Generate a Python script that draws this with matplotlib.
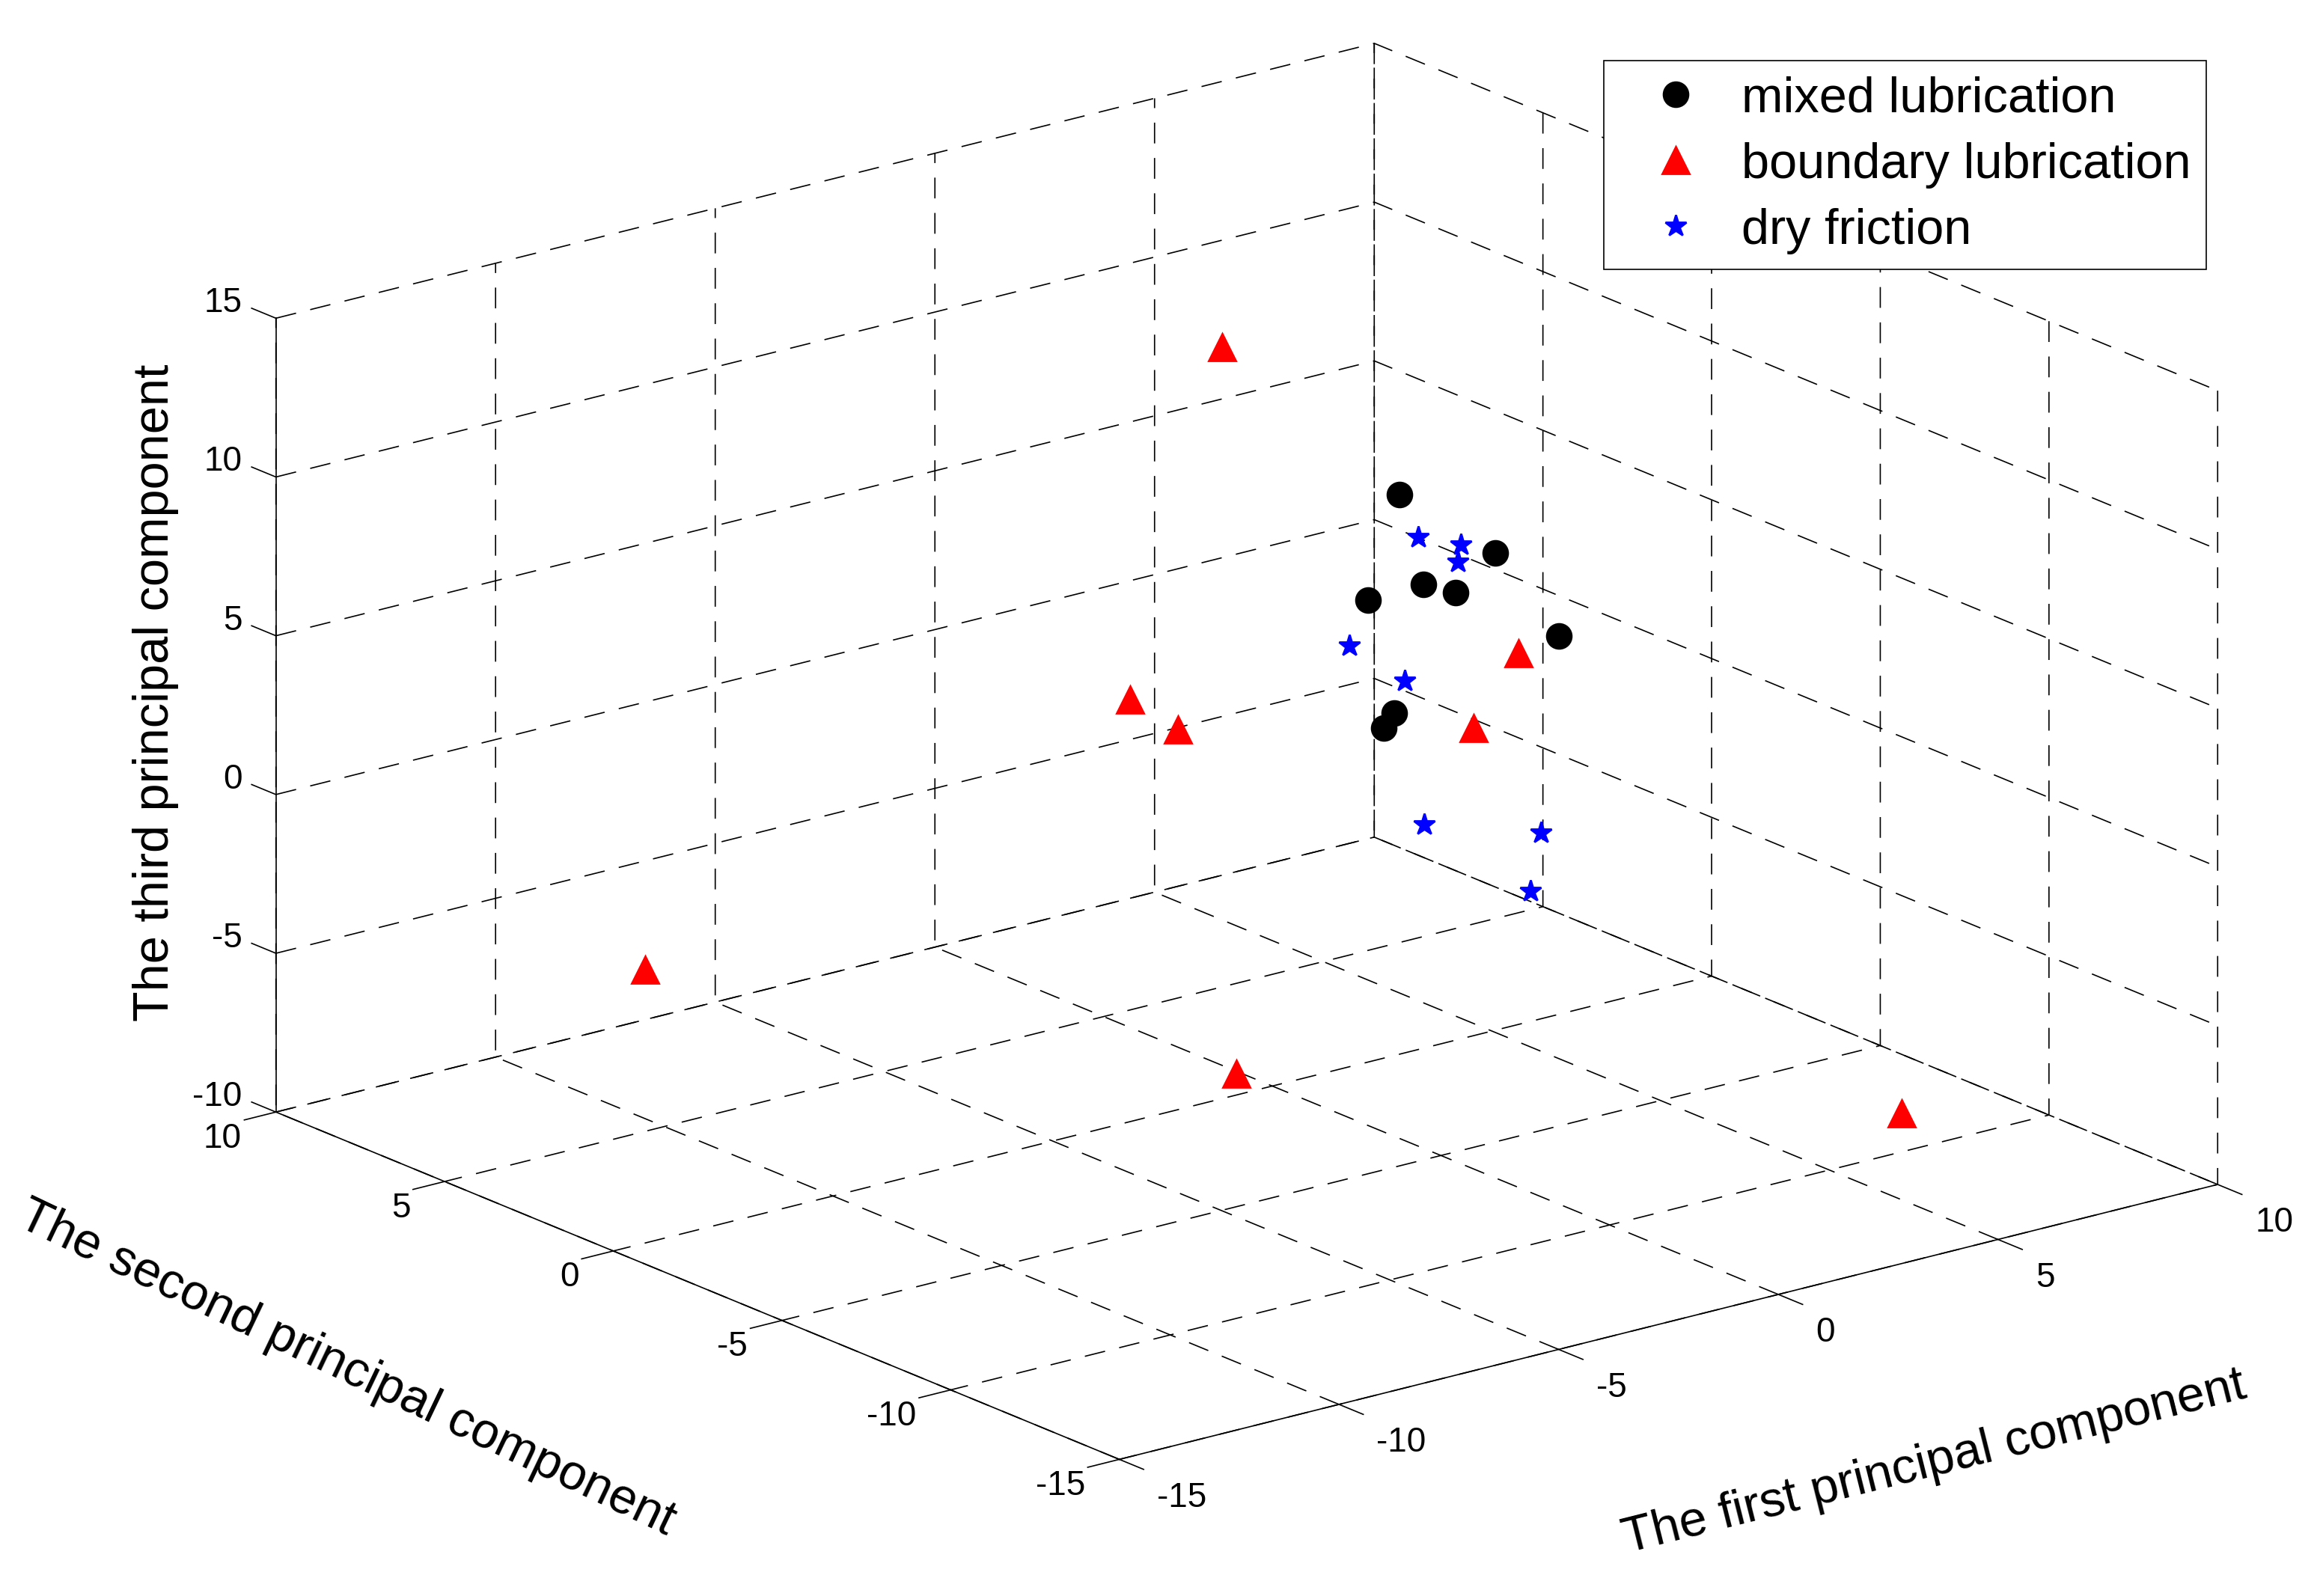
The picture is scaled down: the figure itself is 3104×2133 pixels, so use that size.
import math
import matplotlib
matplotlib.use("Agg")
import matplotlib.pyplot as plt
from mpl_toolkits.mplot3d import proj3d

plt.rcParams['font.family'] = ['Liberation Sans', 'DejaVu Sans']
plt.rcParams['lines.scale_dashes'] = False
plt.rcParams['axes.unicode_minus'] = False

# ---------------- data ----------------
mixed_x = [3.67, 6.62, 3.44, 3.41, 3.72, 6.53, 3.55, 3.69]
mixed_y = [1.0, 2.0, 0.0, -1.0, 2.0, 0.0, 1.0, 1.5]
mixed_z = [6.93, 3.63, 4.60, 4.79, 3.13, 1.92, 0.09, -0.67]

boundary_x = [4.06, 2.27, 2.70, -0.94, -0.61, -9.66, -5.43, 6.64]
boundary_y = [-2.0, -3.0, 5.0, 3.0, 2.0, 6.0, -6.0, -10.0]
boundary_z = [3.11, 1.81, 10.14, 1.19, 0.57, -5.62, -5.11, -8.79]

dry_x = [2.56, 2.76, 2.69, 1.76, 2.25, 1.16, 3.05, 2.03]
dry_y = [-1.0, -2.0, -2.0, 0.0, -1.0, -3.0, -4.0, -5.0]
dry_z = [6.83, 6.96, 6.44, 3.25, 2.41, -0.85, -1.33, -2.37]

x_ticks = [-15, -10, -5, 0, 5, 10]
y_ticks = [-15, -10, -5, 0, 5, 10]
z_ticks = [-10, -5, 0, 5, 10, 15]

series_labels = ['mixed lubrication', 'boundary lubrication', 'dry friction']
xlabel = 'The first principal component'
ylabel = 'The second principal component'
zlabel = 'The third principal component'

XMIN, XMAX = -15, 10
YMIN, YMAX = -15, 10
ZMIN, ZMAX = -10, 15

# ---------------- figure ----------------
fig = plt.figure(figsize=(15.52, 10.665), dpi=200)
ax = fig.add_axes([0.0802, -0.135, 0.889, 1.2935], projection='3d',
                  proj_type='ortho')
ax.view_init(elev=18.73, azim=-127.94)
ax.set_box_aspect((1.0, 0.985, 0.602))
ax.set_xlim(XMIN, XMAX)
ax.set_ylim(YMIN, YMAX)
ax.set_zlim(ZMIN, ZMAX)
ax.set_xticks(x_ticks)
ax.set_yticks(y_ticks)
ax.set_zticks(z_ticks)

for axis in (ax.xaxis, ax.yaxis, ax.zaxis):
    axis.set_pane_color((1, 1, 1, 0))
    axis.pane.set_edgecolor((1, 1, 1, 0))
    axis._axinfo['grid'].update(color='k', linewidth=0.6,
                                linestyle=(0, (10, 7)))
    axis._axinfo['tick'].update(inward_factor=0.36, outward_factor=0.0,
                                linewidth={True: 0.6, False: 0.6})
    axis._axinfo['axisline'].update(color='k', linewidth=0.6)
    axis.line.set_linewidth(0.6)
    axis.line.set_color('k')
    axis.set_tick_params(which='both', label1On=False, label2On=False,
                         colors='k')
    axis.label.set_visible(False)
    axis.offsetText.set_visible(False)

# z ticks point along the y direction, away from the box (MATLAB style)
_zinfo = {k: dict(v) for k, v in ax.zaxis._AXINFO.items()}
_zinfo['z']['tickdir'] = 1
ax.zaxis._AXINFO = _zinfo
ax.zaxis._axinfo['tick'].update(inward_factor=0.0, outward_factor=0.36)

h1, = ax.plot(mixed_x, mixed_y, mixed_z, linestyle='none', marker='o',
              ms=11.8, color='k', mec='k')
h2, = ax.plot(boundary_x, boundary_y, boundary_z, linestyle='none',
              marker='^', ms=13, color='r', mec='r')
h3, = ax.plot(dry_x, dry_y, dry_z, linestyle='none', marker='*',
              ms=10.5, color='b', mec='b')

# ---- texts placed through the axes' own 3D projection ----
M = ax.get_proj()


def to2d(x, y, z):
    px, py, _ = proj3d.proj_transform(x, y, z, M)
    return float(px), float(py)


def screen_angle(p, d):
    a = to2d(*p)
    b = to2d(p[0] + d[0], p[1] + d[1], p[2] + d[2])
    ang = math.degrees(math.atan2(b[1] - a[1], b[0] - a[0]))
    while ang > 90:
        ang -= 180
    while ang <= -90:
        ang += 180
    return ang


def text3(p, s, **kw):
    px, py = to2d(*p)
    return ax.text2D(px, py, s, transform=ax.transData, **kw)


tick_fs = 16.5
for t in x_ticks:
    text3((t, YMIN - 1.11, ZMIN - 1.01), f"{t:g}", fontsize=tick_fs,
          ha='left', va='baseline')
for t in y_ticks:
    text3((XMIN - 0.78, t, ZMIN - 0.85), f"{t:g}", fontsize=tick_fs,
          ha='right', va='baseline')
for t in z_ticks:
    text3((XMIN - 0.27, YMAX + 0.65, t), f"{t:g}", fontsize=tick_fs,
          ha='right', va='baseline')

label_fs = 24.0
p_x = (-3.59, -24.30, ZMIN)
p_y = (-22.82, -2.29, ZMIN)
p_z = (-17.73, YMAX, 4.15)
text3(p_x, xlabel, fontsize=label_fs, ha='center', va='center',
      rotation=screen_angle(p_x, (1, 0, 0)), rotation_mode='anchor')
text3(p_y, ylabel, fontsize=label_fs, ha='center', va='center',
      rotation=screen_angle(p_y, (0, -1, -0.069)), rotation_mode='anchor')
text3(p_z, zlabel, fontsize=label_fs, ha='center', va='center',
      rotation=90, rotation_mode='anchor')

leg = fig.legend([h1, h2, h3], series_labels, loc='upper right',
                 bbox_to_anchor=(0.9497, 0.962), borderaxespad=0,
                 fontsize=24.0, frameon=True, fancybox=False,
                 edgecolor='k', framealpha=1, borderpad=0.31,
                 handlelength=2.24, handletextpad=0.2, labelspacing=0.39)
leg.get_frame().set_linewidth(0.6)

fig.savefig('out.png', dpi=200)
